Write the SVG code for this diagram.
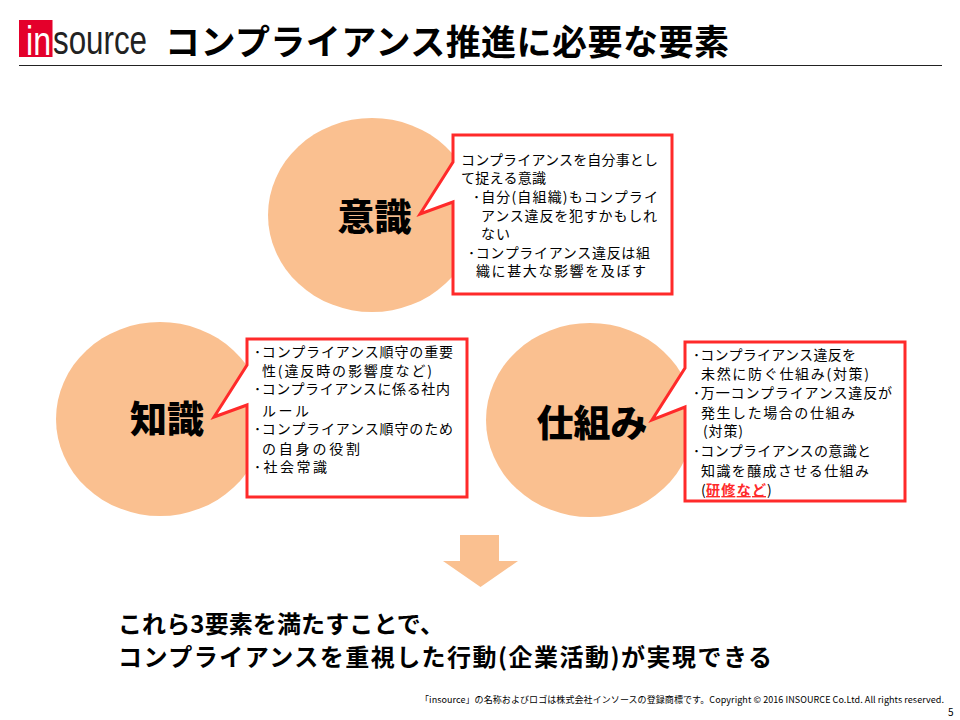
<svg xmlns="http://www.w3.org/2000/svg" width="960" height="720" viewBox="0 0 960 720">
<style>
text{font-family:"Noto Sans CJK JP","Noto Sans",sans-serif;fill:#000}
.c{fill:#fac090}
.b{fill:#fff;stroke:#ff2a2a;stroke-width:3;stroke-linejoin:miter}
.n{font-size:37px;font-weight:900;text-anchor:middle}
.t{font-size:14px}
.h{font-weight:700}
</style>
<rect width="960" height="720" fill="#fff"/>
<g id="header">
<rect x="19" y="20" width="33.500" height="37" fill="#e4002b"/>
<text x="26" y="55" font-size="40" style="font-family:'Liberation Sans',sans-serif;fill:#fff" textLength="25" lengthAdjust="spacingAndGlyphs">in</text>
<text x="53" y="54" font-size="40" style="font-family:'Liberation Sans',sans-serif;fill:#222" textLength="94" lengthAdjust="spacingAndGlyphs">source</text>
<text x="165" y="55" font-size="35" class="h" textLength="564">コンプライアンス推進に必要な要素</text>
<line x1="19" y1="65.500" x2="942" y2="65.500" stroke="#222" stroke-width="1"/>
</g>
<g id="node-ishiki">
<ellipse class="c" cx="372" cy="215" rx="104" ry="97"/>
<text class="n" x="374.500" y="231">意識</text>
<path class="b" d="M453 135H672V294H453V202L420 214L453 162Z"/>
<g class="t">
<text x="461" y="165" textLength="197">コンプライアンスを自分事とし</text>
<text x="461" y="183" textLength="85">て捉える意識</text>
<text x="473" y="202" textLength="185">･自分(自組織)もコンプライ</text>
<text x="481" y="221" textLength="176">アンス違反を犯すかもしれ</text>
<text x="481" y="239" textLength="29">ない</text>
<text x="468" y="258" textLength="182">･コンプライアンス違反は組</text>
<text x="476" y="276" textLength="170">織に甚大な影響を及ぼす</text>
</g>
</g>
<g id="node-chishiki">
<ellipse class="c" cx="160" cy="419" rx="104" ry="97"/>
<text class="n" x="167" y="433">知識</text>
<path class="b" d="M247 339H467V497H247V405L214 417L247 365Z"/>
<g class="t">
<text x="254" y="357" textLength="199">･コンプライアンス順守の重要</text>
<text x="262" y="376" textLength="170">性(違反時の影響度など)</text>
<text x="254" y="394" textLength="196">･コンプライアンスに係る社内</text>
<text x="262" y="416" textLength="47">ルール</text>
<text x="254" y="434" textLength="199">･コンプライアンス順守のため</text>
<text x="262" y="454" textLength="98">の自身の役割</text>
<text x="254" y="472" textLength="73">･社会常識</text>
</g>
</g>
<g id="node-shikumi">
<ellipse class="c" cx="590" cy="420" rx="104" ry="97"/>
<text class="n" x="592" y="437" textLength="111">仕組み</text>
<path class="b" d="M685 342H905V501H685V407L652 420L685 368Z"/>
<g class="t">
<text x="693" y="360" textLength="163">･コンプライアンス違反を</text>
<text x="701" y="379" textLength="168">未然に防ぐ仕組み(対策)</text>
<text x="693" y="398" textLength="199">･万一コンプライアンス違反が</text>
<text x="701" y="418" textLength="154">発生した場合の仕組み</text>
<text x="703" y="436" textLength="40">(対策)</text>
<text x="693" y="456" textLength="178">･コンプライアンスの意識と</text>
<text x="701" y="476" textLength="168">知識を醸成させる仕組み</text>
<text x="701" y="495">(</text>
<text x="706" y="495" textLength="60" style="fill:#ff2a2a;text-decoration:underline;font-weight:700">研修など</text>
<text x="767" y="495">)</text>
</g>
</g>
<g id="connectors">
<path d="M460 535H499V561H518L480.500 587L443 561H460Z" fill="#fac090"/>
</g>
<g id="conclusion">
<text x="118" y="633" font-size="24" class="h" textLength="326">これら3要素を満たすことで、</text>
<text x="118" y="666" font-size="24" class="h" textLength="654">コンプライアンスを重視した行動(企業活動)が実現できる</text>
</g>
<g id="footer">
<text x="420" y="703" font-size="9" fill="#222" textLength="524">「insource」の名称およびロゴは株式会社インソースの登録商標です。Copyright © 2016 INSOURCE Co.Ltd. All rights reserved.</text>
<text x="948" y="716" font-size="10">5</text>
</g>
</svg>
